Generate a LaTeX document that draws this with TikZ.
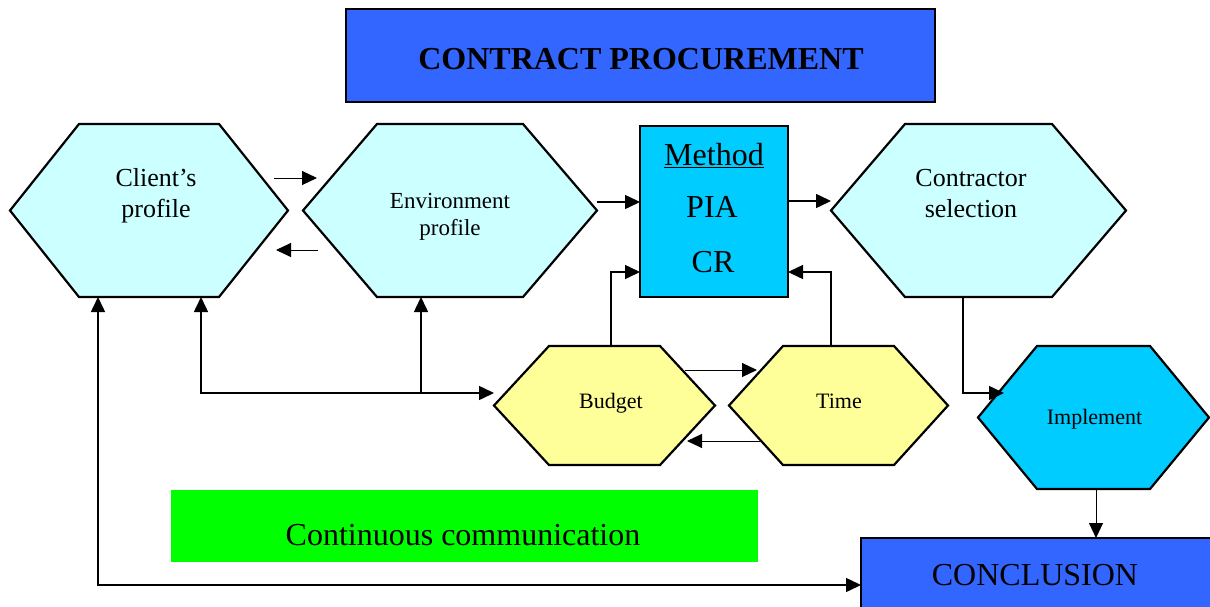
\documentclass[tikz,border=0pt]{standalone}
\usepackage{fontspec}
\setmainfont{Liberation Serif}
\usetikzlibrary{arrows.meta,calc}

\definecolor{royal}{HTML}{3366FF}
\definecolor{skyfill}{HTML}{00CCFF}
\definecolor{palecyan}{HTML}{CCFFFF}
\definecolor{paleyellow}{HTML}{FFFF99}
\definecolor{brightgreen}{HTML}{00FF00}

% hexagon drawn on the bounding rectangle of a named node:
% #1 node name, #2 horizontal slant, #3 fill colour
\newcommand\hexoutline[3]{%
  \filldraw[hexline, fill=#3] (#1.west)
    -- ([shift={(#2,0)}]#1.north west) -- ([shift={(-#2,0)}]#1.north east)
    -- (#1.east)
    -- ([shift={(-#2,0)}]#1.south east) -- ([shift={(#2,0)}]#1.south west)
    -- cycle;}

\tikzset{
  hexframe/.style={rectangle, draw=none, inner sep=0pt, outer sep=0pt},
  hexline/.style={draw=black, line width=2.2pt, line join=miter},
  boxnode/.style={rectangle, draw=black, line width=2.4pt, inner sep=0pt, outer sep=0pt},
  flatbox/.style={rectangle, draw=none, inner sep=0pt, outer sep=0pt},
  txt/.style={anchor=base, inner sep=0pt, outer sep=0pt},
  tip/.tip={Triangle[length=15pt,width=14pt]},
  conn/.style={line width=1.5pt, -tip},
  biconn/.style={line width=1.5pt, tip-tip},
  thinconn/.style={line width=1pt, -tip},
}

\begin{document}
\begin{tikzpicture}[x=1pt, y=-1pt]
\useasboundingbox (0,0) rectangle (1210,607);

% ---- title ----
\node[boxnode, fill=royal, minimum width=589pt, minimum height=93pt] (title) at (640.5,55.5) {};
\node[txt, font=\fontsize{32}{38}\selectfont\bfseries] (titletext) at (641,70) {CONTRACT PROCUREMENT};

% ---- upper row ----
\node[hexframe, minimum width=278pt, minimum height=173pt] (client) at (149,210.5) {};
\hexoutline{client}{69}{palecyan}
\node[txt, font=\fontsize{26}{31}\selectfont] (clientA) at (156,186) {Client’s};
\node[txt, font=\fontsize{26}{31}\selectfont] (clientB) at (156,217) {profile};

\node[hexframe, minimum width=294pt, minimum height=173pt] (env) at (450,210.5) {};
\hexoutline{env}{74}{palecyan}
\node[txt, font=\fontsize{23}{28}\selectfont] (envA) at (450,208) {Environment};
\node[txt, font=\fontsize{23}{28}\selectfont] (envB) at (450,235) {profile};

\node[boxnode, fill=skyfill, minimum width=148pt, minimum height=171pt] (method) at (714,211.5) {};
\node[txt, font=\fontsize{32}{38}\selectfont] (methodA) at (714,165) {\underline{Method}};
\node[txt, font=\fontsize{32}{38}\selectfont] (methodB) at (712,217) {PIA};
\node[txt, font=\fontsize{32}{38}\selectfont] (methodC) at (713,272) {CR};

\node[hexframe, minimum width=295pt, minimum height=173pt] (contractor) at (978.5,210.5) {};
\hexoutline{contractor}{74}{palecyan}
\node[txt, font=\fontsize{26}{31}\selectfont] (contractorA) at (971,186) {Contractor};
\node[txt, font=\fontsize{26}{31}\selectfont] (contractorB) at (971,217) {selection};

% ---- lower row ----
\node[hexframe, minimum width=221pt, minimum height=119pt] (budget) at (604.5,405.5) {};
\hexoutline{budget}{55}{paleyellow}
\node[txt, font=\fontsize{22}{26}\selectfont] (budgetA) at (611,408) {Budget};

\node[hexframe, minimum width=219pt, minimum height=119pt] (time) at (838.5,405.5) {};
\hexoutline{time}{54}{paleyellow}
\node[txt, font=\fontsize{22}{26}\selectfont] (timeA) at (839,408) {Time};

\node[hexframe, minimum width=231pt, minimum height=143pt] (implement) at (1093.5,417.5) {};
\hexoutline{implement}{59}{skyfill}
\node[txt, font=\fontsize{22}{26}\selectfont] (implementA) at (1094.5,424) {Implement};

\node[flatbox, fill=brightgreen, minimum width=587pt, minimum height=72pt] (comm) at (464.5,526) {};
\node[txt, font=\fontsize{32}{38}\selectfont] (commA) at (463,545) {Continuous communication};

\node[boxnode, fill=royal, minimum width=350pt, minimum height=102pt] (conclusion) at (1036,589) {};
\node[txt, font=\fontsize{32}{38}\selectfont] (conclusionA) at (1035,585) {CONCLUSION};

% ---- connectors ----
% client <-> environment
\draw[thinconn] ([shift={(-14,-32.5)}]client.east) -- ([shift={(14,-32.5)}]env.west);
\draw[thinconn] ([shift={(15,39.5)}]env.west) -- ([shift={(-12,39.5)}]client.east);

% environment -> method -> contractor
\coordinate (envout) at ([shift={(0,-8.5)}]env.east);
\draw[conn] (envout) -- (envout -| method.west);
\coordinate (methout) at ([shift={(0,-10.5)}]method.east);
\draw[conn] (methout) -- (methout -| contractor.west);

% budget and time feed the method
\draw[conn] ([shift={(6.5,0)}]budget.north) |- ([shift={(0,60.5)}]method.west);
\draw[conn] ([shift={(-7.5,0)}]time.north) |- ([shift={(0,60.5)}]method.east);

% budget <-> time
\draw[thinconn] ([shift={(-30,-35.5)}]budget.east) -- ([shift={(28,-35.5)}]time.west);
\draw[thinconn] ([shift={(31,35.5)}]time.west) -- ([shift={(-28,35.5)}]budget.east);

% client / environment <-> budget
\coordinate (budin) at ([shift={(0,-12.5)}]budget.west);
\coordinate (envfoot) at ([shift={(-29,0)}]env.south);
\draw[biconn] ([shift={(52,0)}]client.south) |- (budin);
\draw[conn] (envfoot |- budin) -- (envfoot);

% client <-> conclusion
\draw[biconn] ([shift={(-51,0)}]client.south) |- ([shift={(0,-4)}]conclusion.west);

% contractor -> implement -> conclusion
\draw[conn] ([shift={(-15.5,0)}]contractor.south) |- ([shift={(26,-24.5)}]implement.west);
\coordinate (implout) at ([shift={(2.5,0)}]implement.south);
\draw[thinconn] (implout) -- (implout |- conclusion.north);
\end{tikzpicture}
\end{document}
